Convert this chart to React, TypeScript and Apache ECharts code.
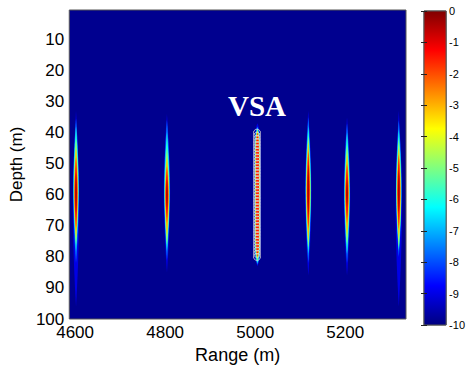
import React, { useEffect, useRef } from "react";
import * as echarts from "echarts";

// ---- axis ticks ----
const rangeTicks = [4600, 4800, 5000, 5200];
const depthTicks = [10, 20, 30, 40, 50, 60, 70, 80, 90, 100];
const colorbarMin = -10;
const colorbarMax = 0;

// ---- streak contour levels (dB) and their half widths (m) ----
const levelValues = [-9, -7.5, -6, -4.5, -3, -1.5, -0.5];
const levelHalfWidths = [7.0, 6.2, 5.5, 4.8, 4.0, 3.1, 1.9];

// ---- streaks: range (m), per-level top / bottom depths (m) ----
const streakRanges = [4602, 4804, 5118, 5204, 5319, 5005];
const streakTops = [
  [33, 35.5, 38, 42, 45, 48, 53],
  [34, 36, 40, 45, 48, 51, 55],
  [33, 35, 38, 41, 43, 46, 50],
  [35, 37, 40, 44, 47, 50, 55],
  [33, 36, 39, 42, 45, 47, 52],
  [37, 38, 38.5, 39, 39.5, 40, 60],
];
const streakBottoms = [
  [96, 82, 78, 76, 74, 71, 66],
  [85, 81, 78, 76, 73, 69, 65],
  [86, 82, 79, 77, 75, 71, 67],
  [86, 82, 79, 76, 73, 69, 64],
  [96, 80, 78, 77, 74, 71, 66],
  [83, 82.5, 82, 81, 80.5, 80, 60],
];
const streakShape = [1.8, 1.8, 1.8, 1.8, 1.8, 10];

// ---- VSA elements ----
const vsaRange = 5004;
const vsaDepths = [
  40, 41, 42, 43, 44, 45, 46, 47, 48, 49, 50, 51, 52, 53, 54, 55, 56, 57, 58, 59,
  60, 61, 62, 63, 64, 65, 66, 67, 68, 69, 70, 71, 72, 73, 74, 75, 76, 77, 78, 79, 80,
];

function jet(v: number): string {
  const t = (v - colorbarMin) / (colorbarMax - colorbarMin);
  const c = (x: number) =>
    Math.round(255 * Math.max(0, Math.min(1, 1.5 - Math.abs(4 * t - x))));
  return `rgb(${c(3)},${c(2)},${c(1)})`;
}

const FONT = "'Liberation Sans', Arial, Helvetica, sans-serif";

export default function App() {
  const ref = useRef<HTMLDivElement>(null);
  useEffect(() => {
    if (!ref.current) return;
    const chart = echarts.init(ref.current, undefined, { renderer: "svg" });

    const streakData: number[][] = [];
    streakRanges.forEach((r, s) => {
      levelValues.forEach((v, l) => {
        streakData.push([
          r,
          streakTops[s][l],
          streakBottoms[s][l],
          levelHalfWidths[l],
          v,
          streakShape[s],
        ]);
      });
    });

    const option: any = {
      animation: false,
      backgroundColor: "#ffffff",
      textStyle: { fontFamily: FONT },
      grid: [
        {
          left: 68,
          top: 10,
          width: 338,
          height: 314,
          show: true,
          backgroundColor: "#00008F",
          borderColor: "#555",
          borderWidth: 1,
        },
        {
          left: 424,
          top: 11,
          width: 26,
          height: 314,
          show: true,
          backgroundColor: "transparent",
          borderColor: "#555",
          borderWidth: 1,
        },
      ],
      xAxis: [
        {
          gridIndex: 0,
          type: "value",
          min: 4587,
          max: 5335,
          axisLine: { show: false },
          axisTick: { show: false },
          splitLine: { show: false },
          axisLabel: {
            customValues: rangeTicks,
            formatter: (v: number) => String(v),
            fontSize: 17,
            color: "#000",
            margin: 5,
            fontFamily: FONT,
            hideOverlap: false,
          },
          name: "Range (m)",
          nameLocation: "middle",
          nameGap: 27,
          nameTextStyle: { fontSize: 18, color: "#000", fontFamily: FONT },
        },
        { gridIndex: 1, type: "value", min: 0, max: 1, show: false },
      ],
      yAxis: [
        {
          gridIndex: 0,
          type: "value",
          inverse: true,
          min: 0.5,
          max: 100,
          axisLine: { show: false },
          axisTick: { show: false },
          splitLine: { show: false },
          axisLabel: {
            customValues: depthTicks,
            formatter: (v: number) => String(v),
            fontSize: 17,
            color: "#000",
            margin: 5,
            fontFamily: FONT,
            hideOverlap: false,
          },
          name: "Depth (m)",
          nameLocation: "middle",
          nameGap: 44,
          nameRotate: 90,
          nameTextStyle: { fontSize: 17, color: "#000", fontFamily: FONT },
        },
        {
          gridIndex: 1,
          type: "value",
          position: "right",
          min: colorbarMin,
          max: colorbarMax,
          interval: 1,
          z: 10,
          axisLine: { show: false },
          splitLine: { show: false },
          axisTick: { show: true, inside: true, length: 3, lineStyle: { color: "#222" } },
          axisLabel: { fontSize: 11, color: "#000", margin: 3, fontFamily: FONT },
        },
        {
          gridIndex: 1,
          type: "value",
          position: "left",
          min: colorbarMin,
          max: colorbarMax,
          interval: 1,
          z: 10,
          axisLine: { show: false },
          splitLine: { show: false },
          axisTick: { show: true, inside: true, length: 3, lineStyle: { color: "#222" } },
          axisLabel: { show: false },
        },
      ],
      graphic: [
        {
          type: "text",
          x: 257,
          y: 106,
          z: 100,
          style: {
            text: "VSA",
            font: "bold 29px 'Liberation Serif', 'Times New Roman', serif",
            fill: "#ffffff",
            align: "center",
            verticalAlign: "middle",
          },
        },
      ],
      series: [
        {
          type: "custom",
          xAxisIndex: 0,
          yAxisIndex: 0,
          clip: true,
          silent: true,
          data: streakData,
          encode: { x: 0, y: [1, 2] },
          renderItem: (params: any, api: any) => {
            const x = api.value(0);
            const top = api.value(1);
            const bot = api.value(2);
            const hw = api.value(3);
            const v = api.value(4);
            const k = api.value(5);
            if (bot <= top) return null;
            const p1 = api.coord([x, top]);
            const p2 = api.coord([x, bot]);
            const w = api.size([hw, 0])[0];
            const n = 48;
            const left: number[][] = [];
            const right: number[][] = [];
            for (let i = 0; i <= n; i++) {
              const s = -1 + (2 * i) / n;
              const y = p1[1] + ((p2[1] - p1[1]) * i) / n;
              const ww = w * (1 - Math.pow(Math.abs(s), k));
              left.push([p1[0] - ww, y]);
              right.unshift([p1[0] + ww, y]);
            }
            return {
              type: "polygon",
              shape: { points: left.concat(right) },
              style: { fill: jet(v) },
            };
          },
        },
        {
          type: "scatter",
          xAxisIndex: 0,
          yAxisIndex: 0,
          silent: true,
          z: 4,
          symbol: "circle",
          symbolSize: 7,
          itemStyle: {
            color: "rgba(0,0,0,0)",
            borderColor: "#dcdcdc",
            borderWidth: 1,
          },
          data: vsaDepths.map((d) => [vsaRange, d]),
        },
        {
          type: "custom",
          xAxisIndex: 1,
          yAxisIndex: 1,
          silent: true,
          z: 1,
          data: [[0, colorbarMin]],
          renderItem: (params: any, api: any) => {
            const p0 = api.coord([0, colorbarMax]);
            const p1 = api.coord([1, colorbarMin]);
            const stops = [0, 0.125, 0.375, 0.625, 0.875, 1].map((o) => ({
              offset: o,
              color: jet(colorbarMax - o * (colorbarMax - colorbarMin)),
            }));
            return {
              type: "rect",
              shape: { x: p0[0], y: p0[1], width: p1[0] - p0[0], height: p1[1] - p0[1] },
              style: {
                fill: new echarts.graphic.LinearGradient(0, 0, 0, 1, stops),
                stroke: "#555",
                lineWidth: 1,
              },
            };
          },
        },
      ],
    };
    chart.setOption(option);
    return () => chart.dispose();
  }, []);

  return (
    <div
      ref={ref}
      style={{ position: "fixed", left: 0, top: 0, width: 468, height: 369 }}
    />
  );
}
